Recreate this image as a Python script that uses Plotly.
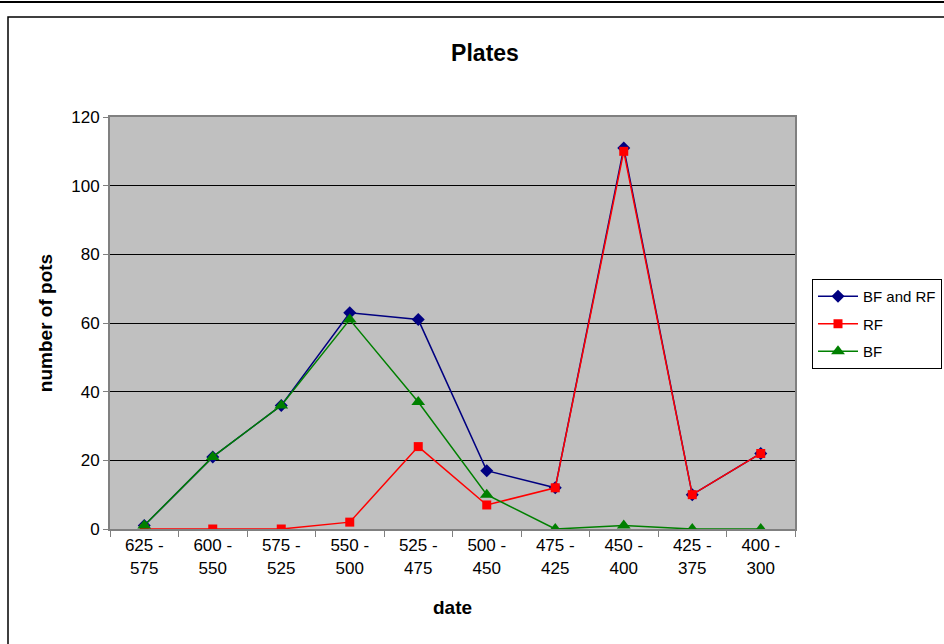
import plotly.graph_objects as go

categories = ["625 -<br>575", "600 -<br>550", "575 -<br>525", "550 -<br>500", "525 -<br>475",
              "500 -<br>450", "475 -<br>425", "450 -<br>400", "425 -<br>375", "400 -<br>300"]
bf_and_rf = [1, 21, 36, 63, 61, 17, 12, 111, 10, 22]
rf = [0, 0, 0, 2, 24, 7, 12, 110, 10, 22]
bf = [1, 21, 36, 61, 37, 10, 0, 1, 0, 0]

W, H = 944, 644
L, R, T, B = 110, 795, 117, 529

def px(x):
    return (x - L) / (R - L)

def py(y):
    return (B - y) / (B - T)

font = "Liberation Sans, Arial, sans-serif"

fig = go.Figure()
fig.add_trace(go.Scatter(x=categories, y=bf_and_rf, name="BF and RF", mode="lines+markers",
                         line=dict(color="#000080", width=1.5),
                         marker=dict(symbol="diamond", size=10, color="#000080"),
                         legendgroup="a"))
fig.add_trace(go.Scatter(x=categories, y=rf, name="RF", mode="lines+markers",
                         line=dict(color="#FF0000", width=1.5),
                         marker=dict(symbol="square", size=9, color="#FF0000"),
                         legendgroup="b"))
fig.add_trace(go.Scatter(x=categories, y=bf, name="BF", mode="lines+markers",
                         line=dict(color="#008000", width=1.5),
                         marker=dict(symbol="triangle-up", size=12, color="#008000"),
                         legendgroup="c"))

fig.update_layout(
    width=W, height=H,
    margin=dict(l=L, r=W - R, t=T, b=H - B, autoexpand=False),
    paper_bgcolor="white",
    plot_bgcolor="#C0C0C0",
    font=dict(family=font, size=17, color="black"),
    title=dict(text="<b>Plates</b>", x=485 / W, xanchor="center", y=1 - 53 / H, yanchor="middle",
               font=dict(size=23, family=font)),
    showlegend=True,
    legend=dict(x=px(812), y=py(279), xanchor="left", yanchor="top",
                bgcolor="white", bordercolor="black", borderwidth=1,
                font=dict(size=15, family=font), tracegroupgap=5,
                itemwidth=40),
    xaxis=dict(
        type="category",
        title=dict(text="<b>date</b>", font=dict(size=19), standoff=24),
        showline=True, linecolor="#808080", linewidth=2, mirror=True,
        ticks="outside", ticklen=6, tickcolor="#808080", tickson="boundaries",
        showgrid=False, tickfont=dict(size=17),
        range=[-0.5, 9.5],
    ),
    yaxis=dict(
        title=dict(text="<b>number of pots</b>", font=dict(size=19), standoff=14),
        range=[0, 120], dtick=20,
        showline=True, linecolor="#808080", linewidth=2, mirror=True,
        ticks="outside", ticklen=5, tickcolor="#808080",
        showgrid=True, gridcolor="black", gridwidth=1,
        zeroline=False, tickfont=dict(size=17),
    ),
    shapes=[
        dict(type="line", xref="paper", yref="paper", x0=px(-5), x1=px(950), y0=py(2), y1=py(2),
             line=dict(color="black", width=2)),
        dict(type="rect", xref="paper", yref="paper", x0=px(8), x1=px(960), y0=py(17), y1=py(660),
             line=dict(color="black", width=1.5)),
    ],
)

fig.write_html("out.html", config={"displayModeBar": False},
               post_script="document.body.style.margin='0';")
